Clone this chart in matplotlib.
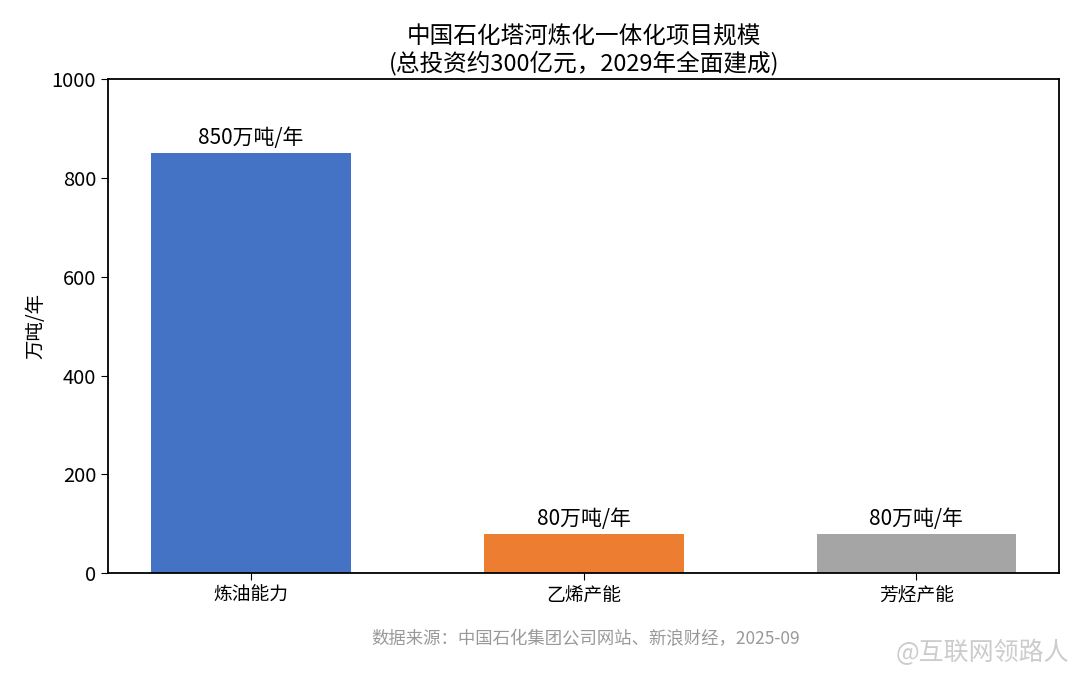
import matplotlib.pyplot as plt

plt.rcParams['font.family'] = ['Noto Sans CJK SC', 'DejaVu Sans']

categories = ['炼油能力', '乙烯产能', '芳烃产能']
values = [850, 80, 80]
labels = ['850万吨/年', '80万吨/年', '80万吨/年']
colors = ['#4472C4', '#ED7D31', '#A5A5A5']

fig, ax = plt.subplots(figsize=(10.8, 6.76), dpi=100)
fig.subplots_adjust(left=0.1, right=0.981, top=0.883, bottom=0.152)

x = range(len(categories))
bars = ax.bar(x, values, width=0.6, color=colors)
for b, lab in zip(bars, labels):
    ax.text(b.get_x() + b.get_width() / 2, b.get_height() + 8, lab,
            ha='center', va='bottom', fontsize=15)

ax.set_xticks(list(x))
ax.set_xticklabels(categories, fontsize=13.5)
ax.set_ylim(0, 1000)
ax.set_yticks([0, 200, 400, 600, 800, 1000])
ax.tick_params(axis='y', labelsize=14.5)
ax.tick_params(length=5)
ax.set_ylabel('万吨/年', fontsize=14, labelpad=4)
for s in ax.spines.values():
    s.set_linewidth(1.3)

ax.set_title('中国石化塔河炼化一体化项目规模\n(总投资约300亿元，2029年全面建成)',
             fontsize=17, linespacing=1.15, pad=6)

fig.text(0.542, 0.055, '数据来源：中国石化集团公司网站、新浪财经，2025-09',
         ha='center', va='center', fontsize=12.5, color='#999999')
fig.text(0.99, 0.035, '@互联网领路人', ha='right', va='center',
         fontsize=18, color='#cccccc')

fig.savefig('out.png', dpi=100)
